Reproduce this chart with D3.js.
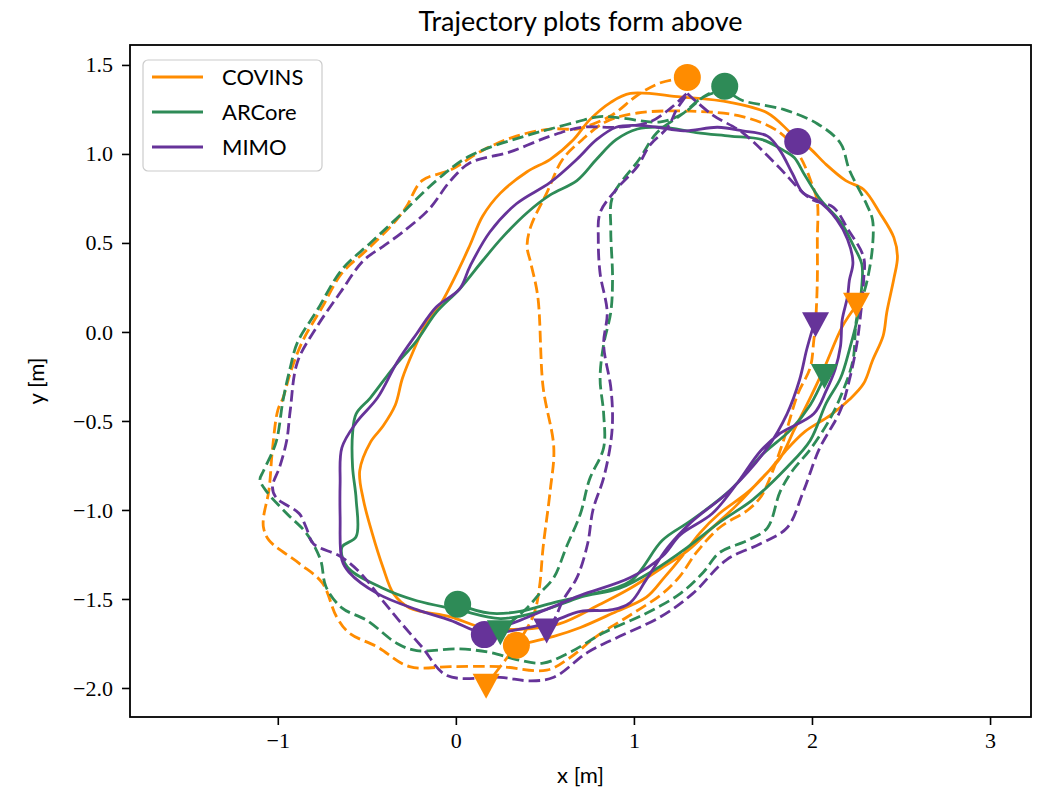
<!DOCTYPE html>
<html lang="en">
<head>
<meta charset="UTF-8">
<title>Trajectory plots form above</title>
<script src="https://cdn.jsdelivr.net/npm/d3@7"></script>
<style>
    body { margin: 0; background: #fff; }
    text { font-family: Lato, "DejaVu Sans", sans-serif; fill: #000; }
    .tick text { font-family: "Liberation Serif", serif; font-size: 22px; }
    .traj { fill: none; stroke-width: 2.8; stroke-linejoin: round; }
</style>
</head>
<body>
<svg id="chart" width="1038" height="795"></svg>
<script>
// ---- data (metres) ----
var methods = ["COVINS", "ARCore", "MIMO"];

var covinsSolid = [[0.34,-1.76],[0.55,-1.71],[0.70,-1.66],[0.88,-1.58],[1.07,-1.49],[1.17,-1.38],[1.27,-1.26],[1.37,-1.13],[1.48,-1.02],[1.64,-0.90],[1.75,-0.79],[1.85,-0.67],[1.96,-0.56],[2.10,-0.47],[2.21,-0.38],[2.29,-0.29],[2.34,-0.16],[2.40,-0.02],[2.42,0.11],[2.46,0.30],[2.48,0.42],[2.46,0.53],[2.38,0.67],[2.29,0.80],[2.19,0.85],[2.08,0.94],[1.99,1.03],[1.89,1.11],[1.75,1.23],[1.54,1.29],[1.26,1.32],[0.98,1.34],[0.87,1.29],[0.75,1.19],[0.66,1.08],[0.53,0.97],[0.40,0.90],[0.25,0.78],[0.15,0.65],[0.08,0.49],[0.02,0.36],[-0.09,0.15],[-0.16,0.06],[-0.24,-0.11],[-0.30,-0.26],[-0.34,-0.41],[-0.41,-0.53],[-0.48,-0.62],[-0.54,-0.78],[-0.52,-0.94],[-0.47,-1.13],[-0.41,-1.32],[-0.35,-1.47],[-0.26,-1.55],[-0.03,-1.60],[0.15,-1.66],[0.36,-1.67],[0.58,-1.64],[0.81,-1.53],[0.98,-1.44],[1.15,-1.33],[1.30,-1.23],[1.44,-1.10],[1.58,-0.97],[1.71,-0.83],[1.82,-0.71],[1.90,-0.55],[1.99,-0.37],[2.07,-0.20],[2.17,0.03],[2.25,0.15]];

var covinsDashed = [[1.30,1.43],[1.15,1.40],[1.02,1.33],[0.88,1.22],[0.75,1.16],[0.68,1.14],[0.53,1.14],[0.34,1.10],[0.15,1.02],[-0.03,0.91],[-0.19,0.85],[-0.28,0.70],[-0.35,0.61],[-0.50,0.46],[-0.64,0.33],[-0.75,0.14],[-0.86,-0.05],[-0.93,-0.23],[-0.97,-0.37],[-1.00,-0.44],[-1.03,-0.66],[-1.05,-0.89],[-1.08,-1.04],[-1.08,-1.10],[-1.05,-1.17],[-0.88,-1.30],[-0.75,-1.41],[-0.67,-1.60],[-0.60,-1.69],[-0.44,-1.77],[-0.26,-1.88],[-0.03,-1.88],[0.25,-1.88],[0.51,-1.90],[0.64,-1.83],[0.79,-1.71],[0.98,-1.59],[1.16,-1.47],[1.26,-1.37],[1.35,-1.24],[1.48,-1.10],[1.64,-1.00],[1.71,-0.93],[1.76,-0.83],[1.84,-0.61],[1.92,-0.35],[1.99,-0.20],[2.01,-0.05],[2.02,0.05],[2.03,0.29],[2.03,0.52],[2.03,0.73],[2.00,0.83],[1.93,0.99],[1.82,1.12],[1.61,1.21],[1.32,1.24],[1.02,1.23],[0.84,1.18],[0.71,1.08],[0.60,0.97],[0.51,0.78],[0.42,0.59],[0.40,0.48],[0.42,0.39],[0.46,0.20],[0.49,-0.31],[0.55,-0.65],[0.53,-0.89],[0.49,-1.21],[0.47,-1.43],[0.44,-1.58],[0.36,-1.73],[0.28,-1.84],[0.18,-1.97]];

var arcoreSolid = [[0.01,-1.53],[0.19,-1.58],[0.36,-1.57],[0.55,-1.52],[0.74,-1.48],[0.92,-1.44],[1.11,-1.34],[1.30,-1.21],[1.48,-1.07],[1.67,-0.94],[1.86,-0.76],[1.99,-0.61],[2.08,-0.40],[2.16,-0.26],[2.21,-0.10],[2.26,0.10],[2.28,0.26],[2.28,0.38],[2.23,0.49],[2.16,0.62],[2.05,0.74],[1.96,0.88],[1.90,0.98],[1.84,1.02],[1.72,1.08],[1.54,1.10],[1.35,1.12],[1.16,1.15],[1.02,1.14],[0.90,1.08],[0.79,0.97],[0.68,0.85],[0.53,0.77],[0.40,0.67],[0.26,0.53],[0.15,0.40],[0.02,0.24],[-0.11,0.11],[-0.22,-0.05],[-0.35,-0.20],[-0.48,-0.37],[-0.56,-0.46],[-0.58,-0.57],[-0.58,-0.76],[-0.56,-0.94],[-0.56,-1.15],[-0.64,-1.21],[-0.61,-1.32],[-0.41,-1.44],[-0.22,-1.51],[0.01,-1.56],[0.25,-1.61],[0.47,-1.57],[0.70,-1.49],[0.98,-1.40],[1.16,-1.17],[1.32,-1.06],[1.54,-0.89],[1.72,-0.69],[1.88,-0.55],[1.99,-0.41],[2.07,-0.25]];

var arcoreDashed = [[1.51,1.38],[1.39,1.32],[1.28,1.23],[1.15,1.18],[0.94,1.20],[0.81,1.21],[0.68,1.18],[0.53,1.14],[0.42,1.11],[0.08,0.99],[-0.11,0.85],[-0.33,0.64],[-0.48,0.50],[-0.64,0.35],[-0.78,0.12],[-0.89,-0.06],[-0.93,-0.20],[-0.97,-0.38],[-1.01,-0.62],[-1.08,-0.78],[-1.10,-0.83],[-1.06,-0.90],[-0.95,-1.02],[-0.84,-1.13],[-0.76,-1.28],[-0.73,-1.43],[-0.64,-1.55],[-0.50,-1.62],[-0.33,-1.75],[-0.22,-1.79],[0.01,-1.78],[0.19,-1.80],[0.34,-1.84],[0.49,-1.86],[0.64,-1.80],[0.83,-1.69],[1.07,-1.58],[1.26,-1.47],[1.39,-1.35],[1.48,-1.24],[1.64,-1.17],[1.75,-1.10],[1.82,-0.90],[1.89,-0.78],[1.99,-0.66],[2.10,-0.49],[2.17,-0.34],[2.23,-0.16],[2.25,0.07],[2.31,0.29],[2.34,0.48],[2.34,0.63],[2.31,0.71],[2.21,0.91],[2.16,1.06],[2.03,1.17],[1.84,1.25],[1.61,1.30],[1.51,1.35],[1.39,1.32],[1.28,1.23],[1.13,1.12],[1.03,0.97],[0.88,0.76],[0.87,0.58],[0.88,0.30],[0.87,0.11],[0.83,-0.07],[0.81,-0.26],[0.83,-0.46],[0.83,-0.65],[0.75,-0.83],[0.70,-1.02],[0.62,-1.21],[0.55,-1.38],[0.47,-1.47],[0.40,-1.55],[0.26,-1.67]];

var mimoSolid = [[0.16,-1.69],[0.36,-1.62],[0.53,-1.55],[0.70,-1.48],[0.98,-1.38],[1.16,-1.26],[1.26,-1.14],[1.44,-1.02],[1.58,-0.85],[1.71,-0.67],[1.82,-0.57],[2.01,-0.46],[2.08,-0.33],[2.13,-0.21],[2.16,-0.08],[2.17,0.07],[2.20,0.20],[2.21,0.29],[2.23,0.39],[2.20,0.52],[2.14,0.63],[2.03,0.74],[1.95,0.78],[1.89,0.89],[1.82,1.02],[1.75,1.10],[1.61,1.13],[1.47,1.15],[1.28,1.13],[1.13,1.15],[1.02,1.16],[0.90,1.15],[0.79,1.08],[0.68,0.97],[0.53,0.84],[0.34,0.72],[0.19,0.56],[0.08,0.37],[0.02,0.24],[-0.11,0.14],[-0.22,-0.01],[-0.33,-0.17],[-0.44,-0.37],[-0.56,-0.51],[-0.64,-0.65],[-0.65,-0.85],[-0.65,-1.04],[-0.64,-1.28],[-0.60,-1.35],[-0.44,-1.47],[-0.22,-1.56],[-0.03,-1.62],[0.15,-1.69],[0.36,-1.67],[0.53,-1.63],[0.70,-1.57],[0.88,-1.56],[0.98,-1.52],[1.07,-1.39],[1.19,-1.21],[1.32,-1.07],[1.54,-0.89],[1.75,-0.65],[1.86,-0.46],[1.93,-0.27],[1.97,-0.10],[2.01,0.04]];

var mimoDashed = [[1.30,1.34],[1.44,1.22],[1.61,1.12],[1.80,0.94],[1.99,0.75],[2.12,0.70],[2.20,0.58],[2.29,0.42],[2.29,0.29],[2.27,0.07],[2.25,-0.08],[2.21,-0.27],[2.16,-0.44],[2.04,-0.66],[1.95,-0.90],[1.86,-1.10],[1.71,-1.19],[1.52,-1.28],[1.33,-1.47],[1.15,-1.60],[0.92,-1.71],[0.74,-1.80],[0.55,-1.94],[0.42,-1.96],[0.25,-1.94],[-0.05,-1.93],[-0.19,-1.77],[-0.32,-1.62],[-0.41,-1.51],[-0.54,-1.35],[-0.65,-1.26],[-0.80,-1.19],[-0.84,-1.10],[-0.88,-1.02],[-1.01,-0.93],[-1.03,-0.87],[-0.99,-0.76],[-0.95,-0.61],[-0.93,-0.44],[-0.89,-0.17],[-0.78,0.03],[-0.65,0.22],[-0.52,0.40],[-0.41,0.48],[-0.30,0.56],[-0.15,0.69],[-0.03,0.85],[0.08,0.95],[0.30,1.01],[0.53,1.10],[0.71,1.15],[0.90,1.15],[1.09,1.18],[1.21,1.26],[1.30,1.34],[1.24,1.25],[1.19,1.15],[1.09,1.05],[1.02,0.93],[0.90,0.80],[0.81,0.67],[0.80,0.52],[0.81,0.33],[0.85,0.11],[0.83,-0.07],[0.87,-0.31],[0.88,-0.48],[0.87,-0.62],[0.83,-0.82],[0.77,-1.00],[0.74,-1.19],[0.68,-1.38],[0.60,-1.51],[0.55,-1.62],[0.50,-1.67]];

// start (circle) and end (triangle) points: [method index, x, y]
var startPoints = [[0, 0.34,-1.76],[0, 1.30,1.43],[1, 0.01,-1.53],[1, 1.51,1.38],[2, 0.16,-1.70],[2, 1.92,1.07]];
var endPoints = [[0, 2.25,0.15],[0, 0.17,-1.99],[1, 2.07,-0.25],[1, 0.25,-1.69],[2, 2.02,0.04],[2, 0.51,-1.68]];

var xTicks = [-1, 0, 1, 2, 3];
var yTicks = [-2.0, -1.5, -1.0, -0.5, 0.0, 0.5, 1.0, 1.5];

// ---- drawing ----
var colors = ["#ff8c00", "#2e8b57", "#663399"];

var svg = d3.select("#chart");
var plotLeft = 130, plotRight = 1031, plotTop = 45, plotBottom = 717;

var x = d3.scaleLinear().domain([-1.83, 3.23]).range([plotLeft, plotRight]);
var y = d3.scaleLinear().domain([-2.163, 1.612]).range([plotBottom, plotTop]);

function minus(s) { return s.replace("-", "\u2212"); }

svg.append("g")
    .attr("transform", "translate(0," + plotBottom + ")")
    .call(d3.axisBottom(x).tickValues(xTicks).tickSize(8).tickPadding(7)
        .tickFormat(function (d) { return minus(String(d)); }));

svg.append("g")
    .attr("transform", "translate(" + plotLeft + ",0)")
    .call(d3.axisLeft(y).tickValues(yTicks).tickSize(8).tickPadding(9)
        .tickFormat(function (d) { return minus(d3.format(".1f")(d)); }));

svg.selectAll(".domain").remove();
svg.selectAll(".tick line").attr("stroke", "#000").attr("stroke-width", 1.6);

var line = d3.line()
    .x(function (d) { return x(d[0]); })
    .y(function (d) { return y(d[1]); })
    .curve(d3.curveCatmullRom.alpha(0.5));

var trajectories = [
    { m: 0, dashed: false, pts: covinsSolid },
    { m: 0, dashed: true, pts: covinsDashed },
    { m: 1, dashed: false, pts: arcoreSolid },
    { m: 1, dashed: true, pts: arcoreDashed },
    { m: 2, dashed: false, pts: mimoSolid },
    { m: 2, dashed: true, pts: mimoDashed }
];

svg.append("g").selectAll("path")
    .data(trajectories)
    .enter().append("path")
    .attr("class", "traj")
    .attr("d", function (d) { return line(d.pts); })
    .attr("stroke", function (d) { return colors[d.m]; })
    .attr("stroke-dasharray", function (d) { return d.dashed ? "11.5,5" : null; });

svg.append("g").selectAll("circle")
    .data(startPoints)
    .enter().append("circle")
    .attr("cx", function (d) { return x(d[1]); })
    .attr("cy", function (d) { return y(d[2]); })
    .attr("r", 13.5)
    .attr("fill", function (d) { return colors[d[0]]; });

svg.append("g").selectAll("path")
    .data(endPoints)
    .enter().append("path")
    .attr("transform", function (d) { return "translate(" + x(d[1]) + "," + y(d[2]) + ")"; })
    .attr("d", "M-13.5,-12.5L13.5,-12.5L0,12.5Z")
    .attr("fill", function (d) { return colors[d[0]]; });

// frame
svg.append("rect")
    .attr("x", plotLeft).attr("y", plotTop)
    .attr("width", plotRight - plotLeft).attr("height", plotBottom - plotTop)
    .attr("fill", "none").attr("stroke", "#000").attr("stroke-width", 1.8);

// legend
var legend = svg.append("g").attr("transform", "translate(143,60)");
legend.append("rect")
    .attr("width", 179).attr("height", 111).attr("rx", 5)
    .attr("fill", "#fff").attr("fill-opacity", 0.8)
    .attr("stroke", "#cccccc").attr("stroke-width", 1.2);
var items = legend.selectAll("g.item")
    .data(methods)
    .enter().append("g")
    .attr("class", "item")
    .attr("transform", function (d, i) { return "translate(0," + (17 + i * 35) + ")"; });
items.append("line")
    .attr("x1", 9).attr("x2", 60)
    .attr("stroke", function (d, i) { return colors[i]; })
    .attr("stroke-width", 2.8);
items.append("text")
    .attr("x", 79).attr("dy", "0.35em")
    .style("font-size", "22px")
    .text(function (d) { return d; });

// title and axis labels
svg.append("text")
    .attr("x", (plotLeft + plotRight) / 2).attr("y", 31)
    .attr("text-anchor", "middle")
    .style("font-size", "27px")
    .text("Trajectory plots form above");

svg.append("text")
    .attr("x", (plotLeft + plotRight) / 2).attr("y", 783)
    .attr("text-anchor", "middle")
    .style("font-size", "22px")
    .text("x [m]");

svg.append("text")
    .attr("transform", "translate(44," + (plotTop + plotBottom) / 2 + ") rotate(-90)")
    .attr("text-anchor", "middle")
    .style("font-size", "22px")
    .text("y [m]");
</script>
</body>
</html>
